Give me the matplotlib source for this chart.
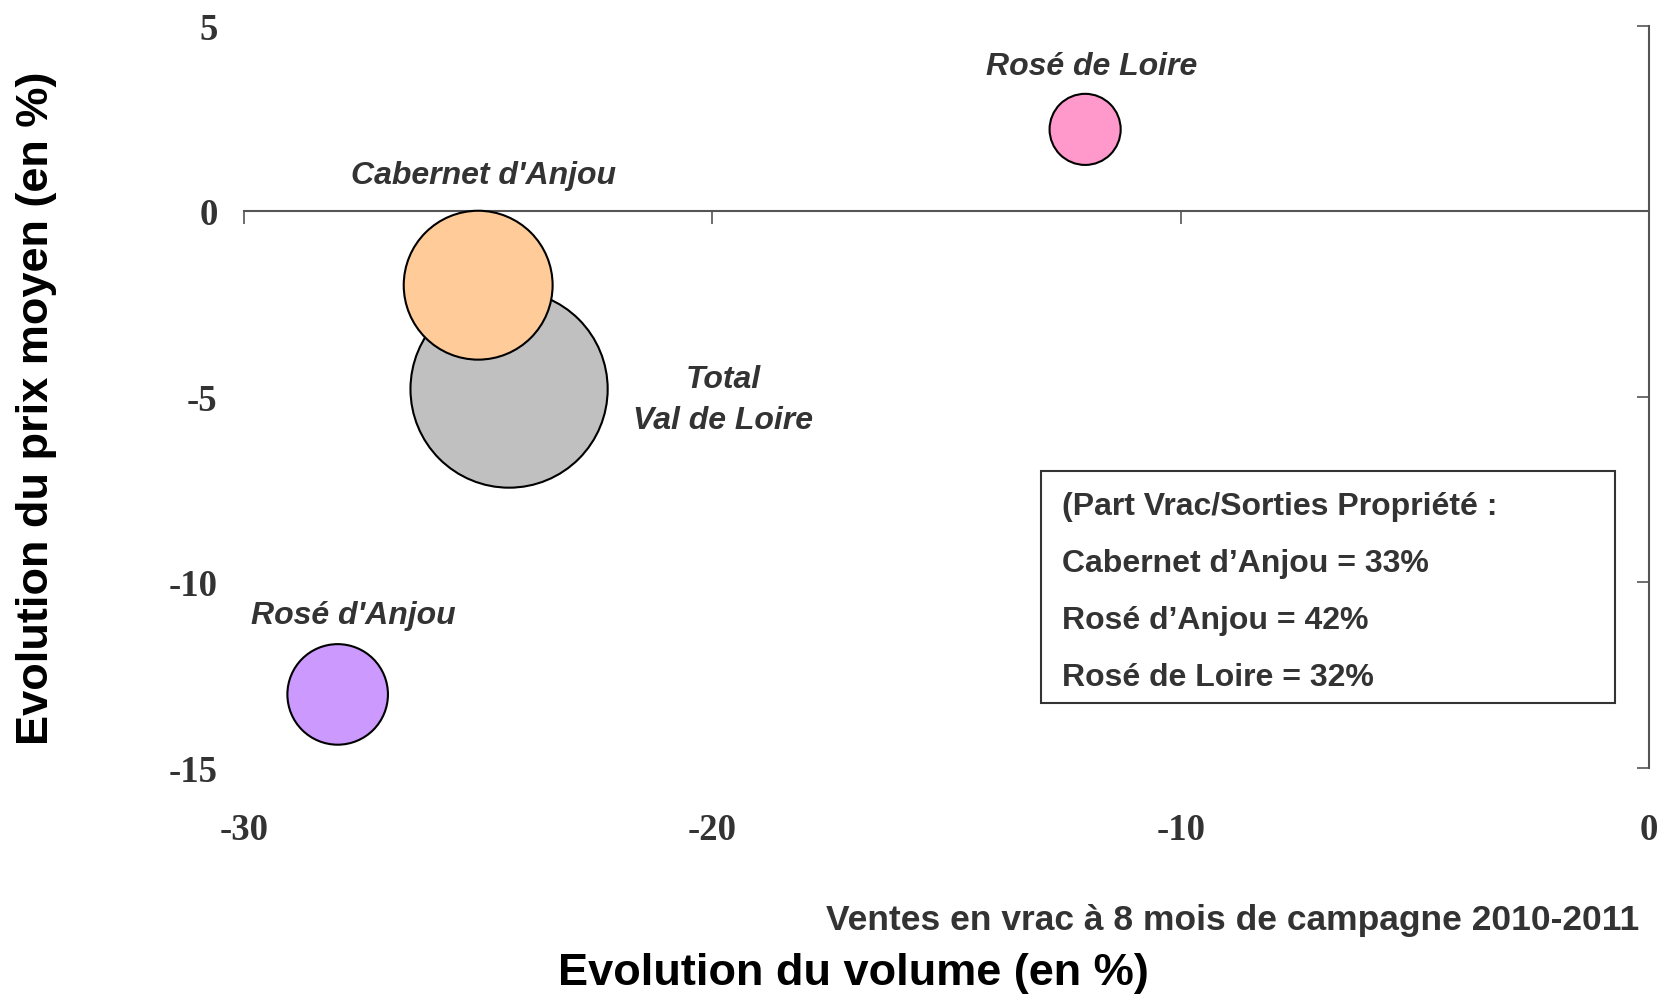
import matplotlib
matplotlib.use("Agg")
import matplotlib.pyplot as plt
from matplotlib import font_manager
from matplotlib.patches import Rectangle

# data
names = ["Total\nVal de Loire", "Cabernet d'Anjou", "Rosé d'Anjou", "Rosé de Loire"]
volume_change = [-24.34, -25.0, -28.0, -12.04]
price_change = [-4.8, -2.0, -13.03, 2.2]
bubble_size = [100, 57, 26, 13]
colors = ["#C0C0C0", "#FFCC99", "#CC99FF", "#FF99CC"]
# label offsets in points from the bubble centre
label_offsets = [(154, -7.5), (4, 79), (11, 57), (5, 45.5)]

x_ticks = [-30, -20, -10, 0]
y_ticks = [-15, -10, -5, 0, 5]

part_vrac = ["(Part Vrac/Sorties Propriété :",
             "Cabernet d\u2019Anjou = 33%",
             "Rosé d\u2019Anjou = 42%",
             "Rosé de Loire = 32%"]

installed = {f.name for f in font_manager.fontManager.ttflist}
narrow = "Liberation Sans Narrow" if "Liberation Sans Narrow" in installed else "Liberation Sans"
txt_col = "#333333"

fig = plt.figure(figsize=(16.62, 9.95), dpi=100)
ax = fig.add_axes([244 / 1662, 1 - 768.5 / 995, (1649 - 244) / 1662, (768.5 - 26.5) / 995])

ax.scatter(volume_change, price_change, s=[v * 201.6 for v in bubble_size],
           c=colors, edgecolors="black", linewidths=1.5, zorder=3, clip_on=False)

for name, x, y, off in zip(names, volume_change, price_change, label_offsets):
    ax.annotate(name, (x, y), xytext=off, textcoords="offset points",
                ha="center", va="center", fontsize=23, fontweight="bold",
                fontstyle="italic", family="Liberation Sans", color=txt_col,
                linespacing=1.45)

ax.set_xlim(-30, 0)
ax.set_ylim(-15, 5)
ax.set_xticks(x_ticks)
ax.set_yticks(y_ticks)
ax.set_xticklabels([str(t) for t in x_ticks])
ax.set_yticklabels([str(t) for t in y_ticks])

ax.spines["left"].set_visible(False)
ax.spines["bottom"].set_visible(False)
ax.spines["top"].set_position(("data", 0))
for s in ("top", "right"):
    ax.spines[s].set_color("#555555")
    ax.spines[s].set_linewidth(1.5)

ax.tick_params(axis="x", direction="in", top=True, bottom=False,
               labeltop=False, labelbottom=True, length=9, width=1.2,
               color="#555555", pad=32)
ax.tick_params(axis="y", direction="in", right=True, left=False,
               labelright=False, labelleft=True, length=9, width=1.2,
               color="#555555", pad=19)
for lab in ax.get_xticklabels() + ax.get_yticklabels():
    lab.set_family("Liberation Serif")
    lab.set_fontweight("bold")
    lab.set_fontsize(26.5)
    lab.set_color(txt_col)

# box with the bulk share
fig.patches.append(Rectangle((1041 / 1662, 1 - 704 / 995), 574 / 1662, 232 / 995,
                             transform=fig.transFigure, fill=False,
                             edgecolor="#333333", linewidth=1.5))
for i, line in enumerate(part_vrac):
    fig.text(1062 / 1662, 1 - (506.5 + i * 57.2) / 995, line, ha="left", va="center",
             fontsize=23, fontweight="bold", family=narrow, color=txt_col)

fig.text(1639 / 1662, 1 - 921 / 995, "Ventes en vrac à 8 mois de campagne 2010-2011",
         ha="right", va="center", fontsize=25.5, fontweight="bold",
         family="Liberation Sans", color=txt_col)
fig.text(853 / 1662, 1 - 974 / 995, "Evolution du volume (en %)", ha="center",
         va="center", fontsize=32.5, fontweight="bold", family="Liberation Sans",
         color="black")
fig.text(37 / 1662, 1 - 408 / 995, "Evolution du prix moyen (en %)", ha="center",
         va="center", rotation=90, fontsize=32.5, fontweight="bold",
         family="Liberation Sans", color="black")

fig.savefig("out.png", dpi=100)
